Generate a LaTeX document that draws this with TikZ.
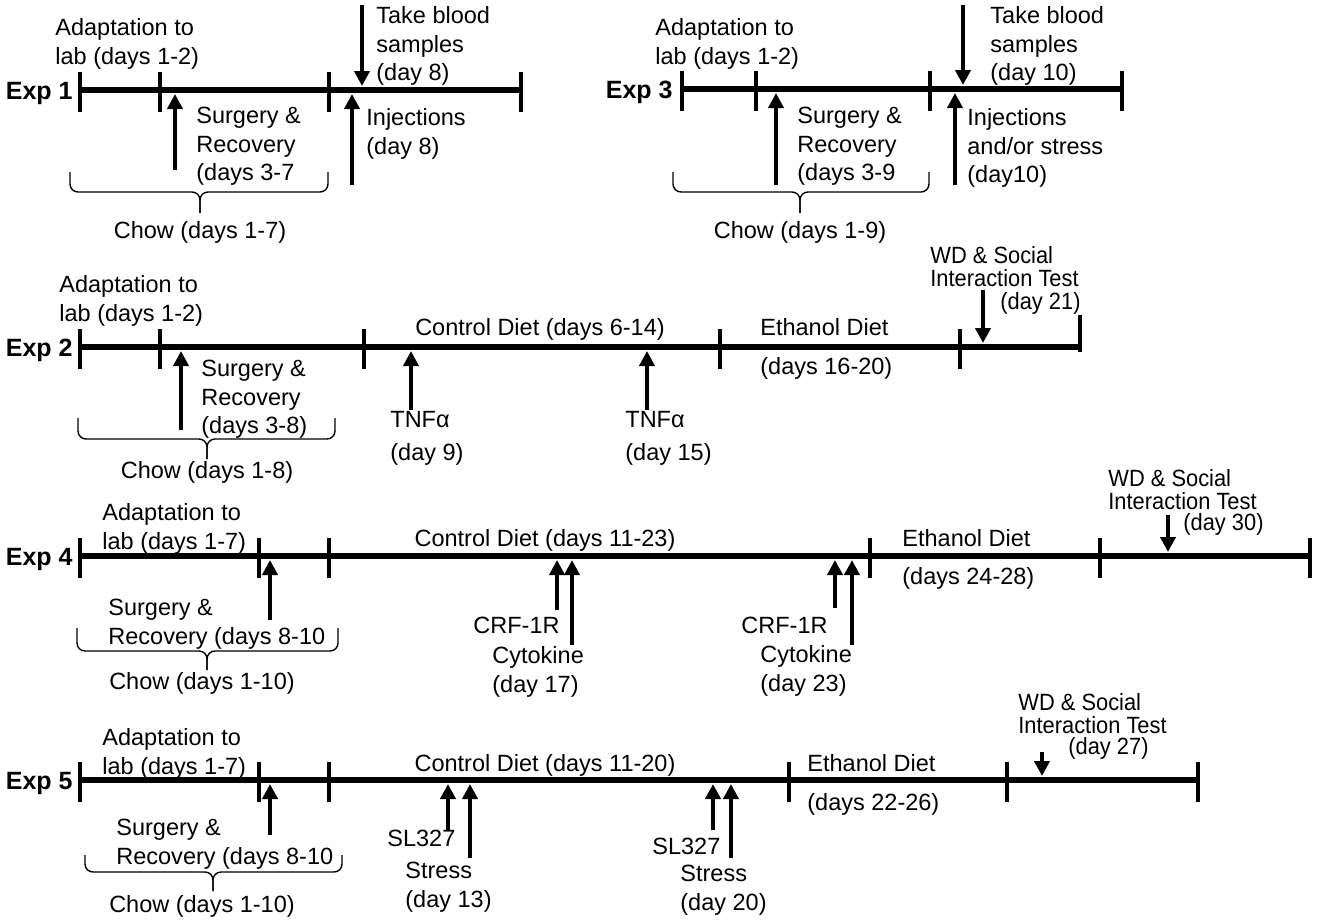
\documentclass[tikz,border=0pt]{standalone}
\usepackage{fontspec}
\setmainfont{Liberation Sans}
\newfontfamily\narrowfont[FakeStretch=0.93]{Liberation Sans}
\usepackage{tikz}
\usetikzlibrary{arrows.meta}

\tikzset{
  tl/.style={line width=2.6pt},
  tick/.style={line width=2.4pt},
  evt/.style={line width=2pt, shorten >=2pt, -{Triangle[width=7.5pt,length=7.5pt]}},
  brc/.style={line width=0.7pt, rounded corners=4pt},
  lbl/.style={anchor=base west, inner sep=0pt, align=left},
  mid/.style={anchor=base, inner sep=0pt},
  wd/.style={lbl, font=\narrowfont\fontsize{11.75}{11.25}\selectfont},
  exp/.style={anchor=base east, inner sep=0pt, font=\fontsize{12.5}{15}\selectfont\bfseries}
}

\begin{document}
\begin{tikzpicture}[x=0.5pt,y=-0.5pt,font=\fontsize{11.75}{14.25}\selectfont]
\useasboundingbox (0,0) rectangle (1322,921);

% Exp 1
\coordinate (e1) at (80,90); \coordinate (e1end) at (521,90);
\draw[tl] (e1) -- (e1end);
\foreach \x in {80,160,329,521}\draw[tick] (\x,72) -- (\x,112);
\node[exp] (exp1) at (73,99) {Exp 1};
\node[lbl] (adapt1) at (55,64) {Adaptation to\\lab (days 1-2)};
\node[lbl] (surg1) at (196,180.5) {Surgery \&\\Recovery\\(days 3-7};
\node[lbl] (blood1) at (376,80.5) {Take blood\\samples\\(day 8)};
\node[lbl] (inj1) at (366,154) {Injections\\(day 8)};
\coordinate (s1) at (175,170); \draw[evt] (s1) -- (s1 |- e1);
\coordinate (i1) at (352,185); \draw[evt] (i1) -- (i1 |- e1);
\coordinate (b1) at (362,5); \draw[evt] (b1) -- (b1 |- e1);
\draw[brc] (70,172) -- (70,192) -- (200,192) -- (200,213);
\draw[brc] (328,172) -- (328,192) -- (200,192) -- (200,213);
\node[mid] (chow1) at (200,238) {Chow (days 1-7)};

% Exp 3
\coordinate (e3) at (682,89); \coordinate (e3end) at (1122,89);
\draw[tl] (e3) -- (e3end);
\foreach \x in {682,756,930,1122}\draw[tick] (\x,71) -- (\x,111);
\node[exp] (exp3) at (673,98) {Exp 3};
\node[lbl] (adapt3) at (655,64) {Adaptation to\\lab (days 1-2)};
\node[lbl] (surg3) at (797,180.5) {Surgery \&\\Recovery\\(days 3-9};
\node[lbl] (blood3) at (990,80.5) {Take blood\\samples\\(day 10)};
\node[lbl] (inj3) at (967,182.5) {Injections\\and/or stress\\(day10)};
\coordinate (s3) at (776,185); \draw[evt] (s3) -- (s3 |- e3);
\coordinate (i3) at (955,185); \draw[evt] (i3) -- (i3 |- e3);
\coordinate (b3) at (963,5); \draw[evt] (b3) -- (b3 |- e3);
\draw[brc] (673,172) -- (673,192) -- (800,192) -- (800,213);
\draw[brc] (929,172) -- (929,192) -- (800,192) -- (800,213);
\node[mid] (chow3) at (800,238) {Chow (days 1-9)};

% Exp 2
\coordinate (e2) at (80,347); \coordinate (e2end) at (1080,347);
\draw[tl] (e2) -- (e2end);
\foreach \x in {80,160,364,720,960}\draw[tick] (\x,329) -- (\x,369);
\draw[tick] (1080,315) -- (1080,352);
\node[exp] (exp2) at (73,356) {Exp 2};
\node[lbl] (adapt2) at (59,321) {Adaptation to\\lab (days 1-2)};
\node[lbl] (surg2) at (201,433.5) {Surgery \&\\Recovery\\(days 3-8)};
\node[mid] (ctrl2) at (540,335.5) {Control Diet (days 6-14)};
\node[lbl] (tnfa) at (390,460.5) {TNFα\\[2.5pt](day 9)};
\node[lbl] (tnfb) at (625,460.5) {TNFα\\[2.5pt](day 15)};
\node[lbl] (eth2) at (760,335.5) {Ethanol Diet};
\node[lbl] (ethd2) at (760,374.5) {(days 16-20)};
\node[wd] (wd2) at (930,286) {WD \& Social\\Interaction Test};
\node[wd] (wdd2) at (1000,309.5) {(day 21)};
\coordinate (s2) at (181,430); \draw[evt] (s2) -- (s2 |- e2);
\coordinate (ta) at (411,410); \draw[evt] (ta) -- (ta |- e2);
\coordinate (tb) at (647,410); \draw[evt] (tb) -- (tb |- e2);
\coordinate (w2) at (983,290); \draw[evt] (w2) -- (w2 |- e2);
\draw[brc] (78,418) -- (78,439) -- (207,439) -- (207,459);
\draw[brc] (335,418) -- (335,439) -- (207,439) -- (207,459);
\node[mid] (chow2) at (207,478) {Chow (days 1-8)};

% Exp 4
\coordinate (e4) at (80,556); \coordinate (e4end) at (1310,556);
\draw[tl] (e4) -- (e4end);
\foreach \x in {80,259,329,870,1100,1310}\draw[tick] (\x,538) -- (\x,578);
\node[exp] (exp4) at (73,565) {Exp 4};
\node[lbl] (adapt4) at (102,549) {Adaptation to\\lab (days 1-7)};
\node[lbl] (surg4) at (108,644) {Surgery \&\\Recovery (days 8-10};
\node[mid] (ctrl4) at (545,546.5) {Control Diet (days 11-23)};
\node[lbl] (crfa) at (473,633.5) {CRF-1R};
\node[lbl] (cyta) at (492,692) {Cytokine\\(day 17)};
\node[lbl] (crfb) at (741,633.5) {CRF-1R};
\node[lbl] (cytb) at (760,691) {Cytokine\\(day 23)};
\node[lbl] (eth4) at (902,546.5) {Ethanol Diet};
\node[lbl] (ethd4) at (902,584.5) {(days 24-28)};
\node[wd] (wd4) at (1108,509) {WD \& Social\\Interaction Test};
\node[wd] (wdd4) at (1183,530.5) {(day 30)};
\coordinate (s4) at (270,620); \draw[evt] (s4) -- (s4 |- e4);
\coordinate (ca) at (557,610); \draw[evt] (ca) -- (ca |- e4);
\coordinate (ka) at (572,645); \draw[evt] (ka) -- (ka |- e4);
\coordinate (cb) at (835,608); \draw[evt] (cb) -- (cb |- e4);
\coordinate (kb) at (852,645); \draw[evt] (kb) -- (kb |- e4);
\coordinate (w4) at (1168,515); \draw[evt] (w4) -- (w4 |- e4);
\draw[brc] (77,628) -- (77,651) -- (207,651) -- (207,670);
\draw[brc] (338,628) -- (338,651) -- (207,651) -- (207,670);
\node[mid] (chow4) at (202,689) {Chow (days 1-10)};

% Exp 5
\coordinate (e5) at (80,780); \coordinate (e5end) at (1198,780);
\draw[tl] (e5) -- (e5end);
\foreach \x in {80,259,329,789,1007,1198}\draw[tick] (\x,762) -- (\x,802);
\node[exp] (exp5) at (73,789) {Exp 5};
\node[lbl] (adapt5) at (102,774) {Adaptation to\\lab (days 1-7)};
\node[lbl] (surg5) at (116,864) {Surgery \&\\Recovery (days 8-10};
\node[mid] (ctrl5) at (545,771.5) {Control Diet (days 11-20)};
\node[lbl] (sla) at (387,846.5) {SL327};
\node[lbl] (stra) at (405,907) {Stress\\(day 13)};
\node[lbl] (slb) at (652,854.5) {SL327};
\node[lbl] (strb) at (680,910) {Stress\\(day 20)};
\node[lbl] (eth5) at (807,771.5) {Ethanol Diet};
\node[lbl] (ethd5) at (807,810.5) {(days 22-26)};
\node[wd] (wd5) at (1018,733) {WD \& Social\\Interaction Test};
\node[wd] (wdd5) at (1068,754.5) {(day 27)};
\coordinate (s5) at (270,835); \draw[evt] (s5) -- (s5 |- e5);
\coordinate (la) at (448,830); \draw[evt] (la) -- (la |- e5);
\coordinate (ra) at (470,858); \draw[evt] (ra) -- (ra |- e5);
\coordinate (lb) at (713,830); \draw[evt] (lb) -- (lb |- e5);
\coordinate (rb) at (731,858); \draw[evt] (rb) -- (rb |- e5);
\coordinate (w5) at (1042,752); \draw[evt] (w5) -- (w5 |- e5);
\draw[brc] (85,855) -- (85,872) -- (213,872) -- (213,891);
\draw[brc] (342,855) -- (342,872) -- (213,872) -- (213,891);
\node[mid] (chow5) at (202,912) {Chow (days 1-10)};
\end{tikzpicture}
\end{document}
